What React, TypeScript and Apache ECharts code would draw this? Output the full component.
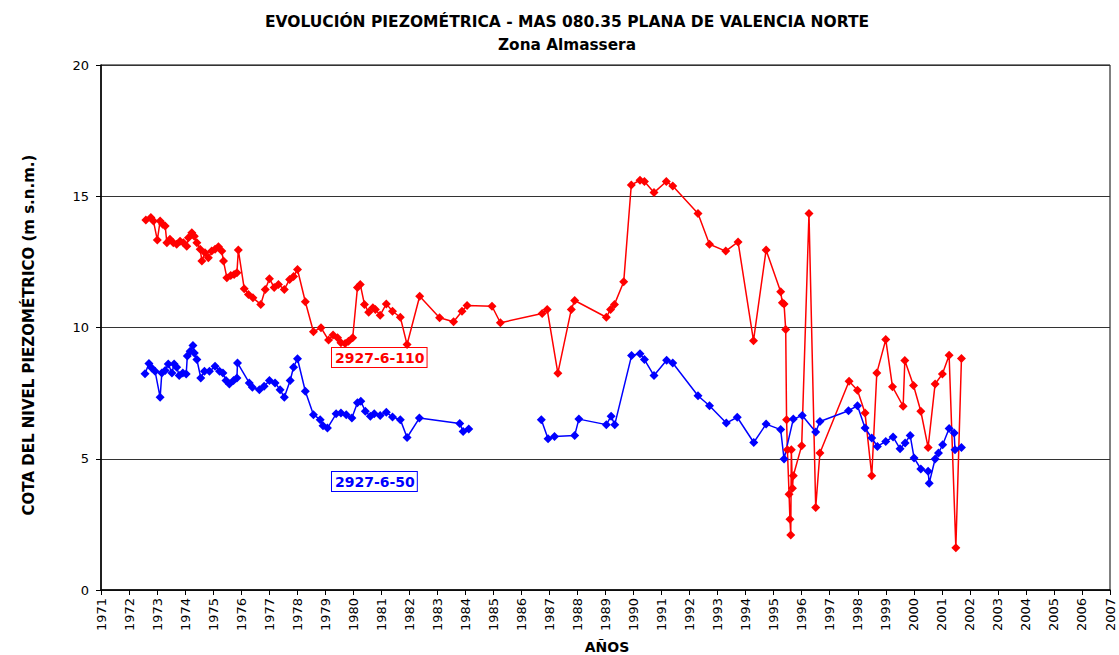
import React, { useEffect, useRef } from "react";
import * as echarts from "echarts";

const TITLE = "EVOLUCIÓN PIEZOMÉTRICA - MAS 080.35 PLANA DE VALENCIA NORTE";
const SUBTITLE = "Zona Almassera";
const Y_TITLE = "COTA DEL NIVEL PIEZOMÉTRICO (m s.n.m.)";
const X_TITLE = "AÑOS";
const RED_NAME = "2927-6-110";
const BLUE_NAME = "2927-6-50";

const redDates = [
  1972.6, 1972.78, 1972.87, 1973.01, 1973.11, 1973.2, 1973.29, 1973.35, 1973.46, 1973.58,
  1973.7, 1973.82, 1973.94, 1974.06, 1974.12, 1974.24, 1974.33, 1974.42, 1974.54, 1974.6,
  1974.71, 1974.83, 1974.95, 1975.07, 1975.19, 1975.31, 1975.37, 1975.49, 1975.63, 1975.75,
  1975.85, 1975.9, 1976.11, 1976.26, 1976.42, 1976.7, 1976.86, 1977.01, 1977.18, 1977.33,
  1977.54, 1977.73, 1977.87, 1978.01, 1978.29, 1978.58, 1978.85, 1979.12, 1979.28, 1979.44,
  1979.56, 1979.71, 1979.83, 1979.98, 1980.15, 1980.25, 1980.4, 1980.55, 1980.7, 1980.79,
  1980.96, 1981.18, 1981.4, 1981.68, 1981.92, 1982.37, 1983.08, 1983.58, 1983.88, 1984.06,
  1984.95, 1985.25, 1986.74, 1986.92, 1987.3, 1987.78, 1987.9, 1989.03, 1989.18, 1989.32,
  1989.65, 1989.92, 1990.23, 1990.39, 1990.73, 1991.17, 1991.4, 1992.3, 1992.71, 1993.29,
  1993.73, 1994.28, 1994.73, 1995.25, 1995.31, 1995.37, 1995.43, 1995.46, 1995.49, 1995.55,
  1995.58, 1995.61, 1995.63, 1995.67, 1995.7, 1996.0, 1996.26, 1996.5, 1996.65, 1997.69,
  1997.99, 1998.26, 1998.5, 1998.68, 1999.0, 1999.24, 1999.62, 1999.68, 1999.99, 2000.25,
  2000.51, 2000.76, 2001.02, 2001.26, 2001.5, 2001.7,
];
const redValues = [
  14.1, 14.19, 14.06, 13.33, 14.06, 13.93, 13.87, 13.23, 13.36, 13.23,
  13.17, 13.29, 13.23, 13.1, 13.42, 13.61, 13.48, 13.23, 12.98, 12.53,
  12.85, 12.66, 12.91, 12.98, 13.08, 12.91, 12.53, 11.9, 11.98, 12.02,
  12.09, 12.95, 11.48, 11.26, 11.13, 10.88, 11.45, 11.86, 11.52, 11.64,
  11.45, 11.83, 11.94, 12.21, 10.98, 9.84, 9.99, 9.52, 9.71, 9.61,
  9.42, 9.39, 9.48, 9.61, 11.52, 11.64, 10.88, 10.58, 10.75, 10.69,
  10.47, 10.9, 10.62, 10.39, 9.35, 11.19, 10.37, 10.22, 10.62, 10.84,
  10.81, 10.18, 10.53, 10.69, 8.26, 10.69, 11.03, 10.39, 10.69, 10.88,
  11.74, 15.43, 15.61, 15.56, 15.14, 15.56, 15.39, 14.34, 13.17, 12.91,
  13.26, 9.5, 12.95, 11.36, 10.94, 10.9, 9.92, 6.49, 5.34, 3.65,
  2.7, 2.1, 5.34, 3.88, 4.35, 5.5, 14.34, 3.14, 5.22, 7.95,
  7.61, 6.74, 4.35, 8.27, 9.54, 7.74, 7.0, 8.74, 7.79, 6.81,
  5.43, 7.85, 8.23, 8.94, 1.61, 8.82,
];

const blueDates = [
  1972.57, 1972.71, 1972.81, 1972.93, 1973.11, 1973.17, 1973.29, 1973.4, 1973.53, 1973.61,
  1973.7, 1973.79, 1973.92, 1974.04, 1974.08, 1974.18, 1974.28, 1974.33, 1974.42, 1974.56,
  1974.69, 1974.87, 1975.07, 1975.23, 1975.35, 1975.46, 1975.58, 1975.73, 1975.85, 1975.87,
  1976.29, 1976.4, 1976.65, 1976.82, 1977.01, 1977.21, 1977.39, 1977.54, 1977.75, 1977.87,
  1978.01, 1978.29, 1978.58, 1978.82, 1978.92, 1979.08, 1979.39, 1979.56, 1979.75, 1979.95,
  1980.15, 1980.27, 1980.43, 1980.61, 1980.75, 1980.96, 1981.18, 1981.4, 1981.68, 1981.92,
  1982.36, 1983.8, 1983.92, 1984.12, 1985.5, 1986.71, 1986.95, 1987.18, 1987.9, 1988.05,
  1989.03, 1989.2, 1989.33, 1989.93, 1990.23, 1990.39, 1990.73, 1991.18, 1991.4, 1992.3,
  1992.71, 1993.31, 1993.7, 1994.29, 1994.73, 1995.25, 1995.37, 1995.7, 1996.02, 1996.5,
  1996.65, 1997.67, 1997.99, 1998.26, 1998.5, 1998.7, 1999.0, 1999.26, 1999.51, 1999.69,
  1999.87, 2000.01, 2000.25, 2000.51, 2000.55, 2000.76, 2000.88, 2001.03, 2001.26, 2001.44,
  2001.47, 2001.7,
];
const blueValues: (number | null)[] = [
  8.24, 8.63, 8.46, 8.33, 7.34, 8.27, 8.36, 8.61, 8.27, 8.61,
  8.49, 8.17, 8.27, 8.23, 8.91, 9.1, 9.31, 9.03, 8.78, 8.08,
  8.33, 8.33, 8.52, 8.33, 8.27, 7.98, 7.85, 7.98, 8.08, 8.65,
  7.89, 7.72, 7.63, 7.76, 7.98, 7.89, 7.63, 7.34, 7.98, 8.49,
  8.81, 7.57, 6.68, 6.49, 6.26, 6.17, 6.71, 6.74, 6.68, 6.55,
  7.13, 7.19, 6.81, 6.62, 6.71, 6.65, 6.77, 6.59, 6.49, 5.81,
  6.55, 6.34, 6.04, 6.13, null, 6.49, 5.76, 5.85, 5.89, 6.51,
  6.3, 6.62, 6.3, 8.93, 9.0, 8.78, 8.17, 8.75, 8.65, 7.4,
  7.02, 6.36, 6.58, 5.62, 6.32, 6.11, 4.99, 6.51, 6.65, 6.02,
  6.42, 6.83, 7.02, 6.17, 5.79, 5.47, 5.66, 5.83, 5.38, 5.6,
  5.89, 5.03, 4.61, 4.52, 4.07, 4.99, 5.22, 5.53, 6.15, 5.98,
  5.34, 5.43,
];

const yTicks = [0, 5, 10, 15, 20];
const xMin = 1971;
const xMax = 2007;

const FONT = "'DejaVu Sans', Verdana, sans-serif";

export default function App() {
  const ref = useRef<HTMLDivElement>(null);
  useEffect(() => {
    if (!ref.current) return;
    const chart = echarts.init(ref.current, undefined, { renderer: "svg" });
    const red = redDates.map((d, i) => [d, redValues[i]]);
    const blue = blueDates.map((d, i) => [d, blueValues[i] === null ? "-" : blueValues[i]]);
    chart.setOption({
      animation: false,
      backgroundColor: "#fff",
      textStyle: { fontFamily: FONT },
      grid: {
        left: 101,
        right: 9,
        top: 65,
        bottom: 65,
        show: true,
        borderColor: "#000",
        borderWidth: 1,
        containLabel: false,
      },
      xAxis: {
        type: "value",
        min: xMin,
        max: xMax,
        interval: 1,
        axisLine: { show: true, onZero: false, lineStyle: { color: "#000", width: 1.5 } },
        axisTick: { show: true, inside: false, length: 5, lineStyle: { color: "#000" } },
        axisLabel: {
          rotate: 90,
          margin: 8,
          color: "#000",
          fontSize: 13,
          fontFamily: FONT,
          formatter: (v: number) => String(v),
        },
        splitLine: { show: false },
      },
      yAxis: {
        type: "value",
        min: yTicks[0],
        max: yTicks[yTicks.length - 1],
        interval: 5,
        axisLine: { show: true, lineStyle: { color: "#000", width: 1.5 } },
        axisTick: { show: true, inside: false, length: 5, lineStyle: { color: "#000" } },
        axisLabel: { color: "#000", fontSize: 13, margin: 12, fontFamily: FONT },
        splitLine: { show: true, lineStyle: { color: "#333", width: 1 } },
      },
      series: [
        {
          name: RED_NAME,
          type: "line",
          data: red,
          symbol: "diamond",
          symbolSize: 9,
          itemStyle: { color: "#ff0000" },
          lineStyle: { color: "#ff0000", width: 1.5 },
          connectNulls: false,
        },
        {
          name: BLUE_NAME,
          type: "line",
          data: blue,
          symbol: "diamond",
          symbolSize: 9,
          itemStyle: { color: "#0000ff" },
          lineStyle: { color: "#0000ff", width: 1.5 },
          connectNulls: false,
        },
      ],
      graphic: [
        {
          type: "text",
          x: 567,
          y: 22,
          style: {
            text: TITLE,
            font: `bold 15.5px ${FONT}`,
            fill: "#000",
            align: "center",
            verticalAlign: "middle",
          },
        },
        {
          type: "text",
          x: 567,
          y: 45,
          style: {
            text: SUBTITLE,
            font: `bold 15.3px ${FONT}`,
            fill: "#000",
            align: "center",
            verticalAlign: "middle",
          },
        },
        {
          type: "text",
          x: 29,
          y: 335,
          rotation: Math.PI / 2,
          style: {
            text: Y_TITLE,
            font: `bold 15px ${FONT}`,
            fill: "#000",
            align: "center",
            verticalAlign: "middle",
          },
        },
        {
          type: "text",
          x: 607,
          y: 647,
          style: {
            text: X_TITLE,
            font: `bold 14px ${FONT}`,
            fill: "#000",
            align: "center",
            verticalAlign: "middle",
          },
        },
        {
          type: "text",
          x: 332,
          y: 348,
          style: {
            text: RED_NAME,
            font: `bold 14px ${FONT}`,
            fill: "#ff0000",
            backgroundColor: "#fff",
            borderColor: "#ff0000",
            borderWidth: 1,
            padding: [3, 2, 2, 3],
          },
        },
        {
          type: "text",
          x: 332,
          y: 472,
          style: {
            text: BLUE_NAME,
            font: `bold 14px ${FONT}`,
            fill: "#0000ff",
            backgroundColor: "#fff",
            borderColor: "#0000ff",
            borderWidth: 1,
            padding: [3, 2, 2, 3],
          },
        },
      ],
    });
    return () => chart.dispose();
  }, []);
  return <div ref={ref} style={{ width: 1119, height: 655, position: "absolute", left: 0, top: 0 }} />;
}
